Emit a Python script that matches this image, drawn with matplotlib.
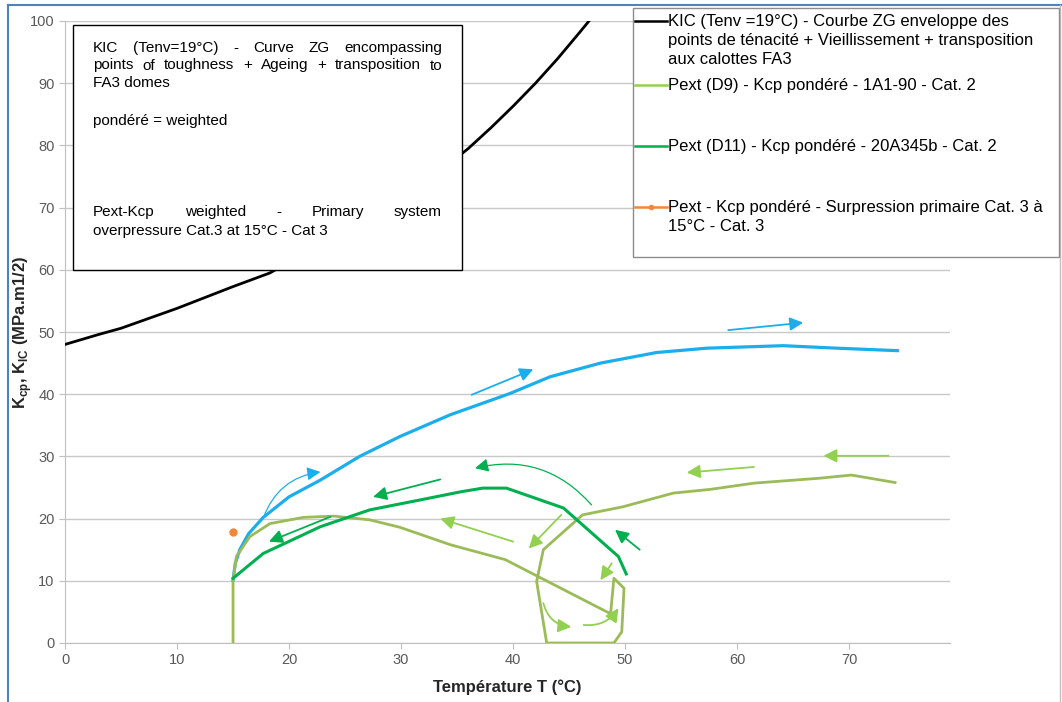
import matplotlib
matplotlib.use("Agg")
import matplotlib.pyplot as plt
from matplotlib.lines import Line2D
from matplotlib.patches import Rectangle

plt.rcParams['font.family'] = ['Liberation Sans', 'DejaVu Sans']
plt.rcParams['mathtext.fontset'] = 'custom'
plt.rcParams['mathtext.rm'] = 'Liberation Sans'
plt.rcParams['mathtext.bf'] = 'Liberation Sans:bold'

# ---- data ----
kic_T = [0, 3, 5, 10, 15, 18.3, 22, 26, 30, 34, 36, 38, 40, 42, 44, 46, 47]
kic_K = [48, 49.6, 50.6, 53.8, 57.3, 59.5, 63.3, 67.5, 72.0, 76.6, 79.5, 82.8, 86.3, 90.0, 94.0, 98.3, 100.5]

blue_T = [15, 15.2, 15.6, 16.4, 17.7, 20, 22.8, 26.3, 29.9, 34.4, 39.7, 43.3, 47.8, 52.8, 57.3, 64.1, 68.9, 74.3]
blue_K = [10.1, 12.8, 15, 17.6, 20.2, 23.5, 26.2, 30.0, 33.2, 36.7, 40.1, 42.8, 45.0, 46.7, 47.4, 47.8, 47.4, 47.0]

d9_T = [15.0, 15.0, 15.0, 15.3, 16.5, 18.3, 21.3, 24.0, 27.2, 29.9, 34.4, 39.3, 48.7, 49.0, 49.9,
        49.7, 49.0, 43.0, 42.1, 42.7, 46.2, 49.8, 54.3, 57.6, 61.5, 67.4, 70.2, 74.1]
d9_K = [0.0, 3.7, 10.1, 13.9, 17.1, 19.2, 20.2, 20.4, 19.8, 18.6, 15.8, 13.4, 4.7, 10.4, 8.8,
        1.8, 0.0, 0.0, 9.9, 15.0, 20.6, 21.9, 24.1, 24.7, 25.7, 26.5, 27.0, 25.8]

d11_T = [15.0, 17.7, 22.8, 27.2, 31.7, 35.3, 37.3, 39.4, 44.5, 49.4, 50.1]
d11_K = [10.4, 14.4, 18.7, 21.4, 23.0, 24.3, 24.9, 24.9, 21.7, 13.9, 11.1]

cat3_T = [15.0]
cat3_K = [17.9]

# hand drawn arrows: (T start, K start, T end, K end, colour, curvature, thin)
arrows = [
    (17.7, 20.1, 22.8, 27.5, 'blue', -0.3, True),
    (36.3, 39.9, 41.8, 44.0, 'blue', 0, False),
    (59.2, 50.3, 65.9, 51.5, 'blue', 0, False),
    (73.5, 30.1, 67.7, 30.1, 'light', 0, False),
    (61.5, 28.3, 55.5, 27.4, 'light', 0, False),
    (47.0, 22.2, 36.6, 28.1, 'dark', 0.3, True),
    (33.5, 26.3, 27.5, 23.5, 'dark', 0, False),
    (40.0, 16.3, 33.5, 20.0, 'light', 0, False),
    (44.3, 20.6, 41.4, 15.2, 'light', 0, False),
    (51.3, 15.0, 49.1, 18.2, 'dark', 0, False),
    (48.8, 12.8, 47.8, 10.1, 'light', 0, False),
    (42.7, 6.4, 45.2, 2.6, 'light', 0.35, False),
    (46.3, 2.9, 49.4, 5.6, 'light', 0.3, False),
    (23.7, 20.3, 18.2, 16.3, 'dark', 0, False),
]

legend_labels = [
    "KIC (Tenv =19°C) - Courbe ZG enveloppe des\npoints de ténacité + Vieillissement + transposition\naux calottes FA3",
    "Pext (D9) - Kcp pondéré - 1A1-90 - Cat. 2",
    "Pext (D11) - Kcp pondéré - 20A345b - Cat. 2",
    "Pext - Kcp pondéré - Surpression primaire Cat. 3 à\n15°C - Cat. 3",
]

c_black = 'black'
c_blue = '#1AAFEC'
c_d9 = '#9BBB59'
c_d11 = '#00B050'
c_light = '#92D050'
c_orange = '#F0883A'
arrow_col = {'blue': c_blue, 'light': c_light, 'dark': c_d11}

W, H = 1062, 702
def fx(px):
    return px / W
def fy(py):
    return 1 - py / H

fig = plt.figure(figsize=(W / 100, H / 100), dpi=100)
ax = fig.add_axes([fx(65), fy(643), (950 - 65) / W, (643 - 21) / H])

ax.plot(kic_T, kic_K, color=c_black, lw=2, zorder=3)
ax.plot(blue_T, blue_K, color=c_blue, lw=2.3, zorder=3)
ax.plot(d9_T, d9_K, color=c_d9, lw=2, zorder=3, solid_joinstyle='round')
ax.plot(d11_T, d11_K, color=c_d11, lw=2.2, zorder=3)
ax.plot(cat3_T, cat3_K, 'o', color=c_orange, ms=5, zorder=3)

for x0, y0, x1, y1, col, rad, thin in arrows:
    ax.annotate('', xy=(x1, y1), xytext=(x0, y0),
                arrowprops=dict(arrowstyle='-|>', color=arrow_col[col],
                                lw=0.9 if thin else 1.3, mutation_scale=20,
                                connectionstyle='arc3,rad=%s' % rad,
                                shrinkA=0, shrinkB=0), zorder=4)

ax.set_xlim(0, 79)
ax.set_ylim(0, 100)
ax.set_xticks(range(0, 80, 10))
ax.set_yticks(range(0, 101, 10))
ax.grid(axis='y', color='#C8C8C8', lw=1)
ax.set_axisbelow(True)
for s in ['top', 'right']:
    ax.spines[s].set_visible(False)
for s in ['left', 'bottom']:
    ax.spines[s].set_color('#BFBFBF')
ax.tick_params(direction='out', length=4, color='#BFBFBF', labelcolor='#595959', labelsize=10.5)

ax.set_ylabel(r'K$_\mathbf{cp}$, K$_\mathbf{IC}$ (MPa.m1/2)', fontsize=12, fontweight='bold', color='#262626')
ax.yaxis.set_label_coords((34 - 65) / 885, 0.5)
ax.set_xlabel('Température T (°C)', fontsize=12, fontweight='bold', color='#262626')
ax.xaxis.set_label_coords(0.5, (643 - 679) / 622)

# text box with the translation
fig.add_artist(Rectangle((fx(73), fy(270)), (462 - 73) / W, (270 - 25) / H, transform=fig.transFigure,
                         facecolor='white', edgecolor='black', lw=1, zorder=5))

renderer = fig.canvas.get_renderer()
FS_BOX = 11
FS_LEG = 12

def justified(line, x0, x1, y, justify=True):
    if not justify:
        fig.text(fx(x0), fy(y), line, va='baseline', ha='left', fontsize=FS_BOX, zorder=6)
        return
    words = line.split()
    texts = [fig.text(0, fy(y), w, va='baseline', ha='left', fontsize=FS_BOX, zorder=6) for w in words]
    widths = [t.get_window_extent(renderer).width for t in texts]
    gap = ((x1 - x0) - sum(widths)) / (len(words) - 1)
    x = x0
    for t, w in zip(texts, widths):
        t.set_x(fx(x))
        x += w + gap

box_lines = [
    ("KIC (Tenv=19°C) - Curve ZG encompassing", 52, True),
    ("points of toughness + Ageing + transposition to", 69.5, True),
    ("FA3 domes", 87, False),
    ("pondéré = weighted", 125, False),
    ("Pext-Kcp weighted - Primary system", 216, True),
    ("overpressure Cat.3 at 15°C - Cat 3", 234.5, False),
]
for line, y, j in box_lines:
    justified(line, 93, 442, y, j)

# legend
fig.add_artist(Rectangle((fx(633), fy(257)), (1059 - 633) / W, (257 - 8) / H, transform=fig.transFigure,
                         facecolor='white', edgecolor='#8C8C8C', lw=1, zorder=5))
leg_colors = [c_black, c_light, c_d11, c_orange]
leg_y = [21, 85, 146, 207]
for lab, col, y in zip(legend_labels, leg_colors, leg_y):
    fig.add_artist(Line2D([fx(635), fx(651), fx(667)], [fy(y)] * 3, color=col, lw=1.8,
                          marker='o' if col == c_orange else None, ms=3, markevery=[1],
                          transform=fig.transFigure, zorder=6))
    for i, part in enumerate(lab.split('\n')):
        fig.text(fx(668), fy(y + 5 + i * 19), part, va='baseline', ha='left', fontsize=FS_LEG, zorder=6)

# outer frame of the original picture
fig.add_artist(Line2D([fx(8), fx(1062)], [fy(5), fy(5)], color='#4F81BD', lw=1.5, transform=fig.transFigure))
fig.add_artist(Line2D([fx(8), fx(8)], [fy(5), fy(702)], color='#4F81BD', lw=1.5, transform=fig.transFigure))
fig.add_artist(Line2D([fx(1060), fx(1060)], [fy(5), fy(702)], color='#BFBFBF', lw=1, transform=fig.transFigure))

fig.savefig('out.png', dpi=100)
